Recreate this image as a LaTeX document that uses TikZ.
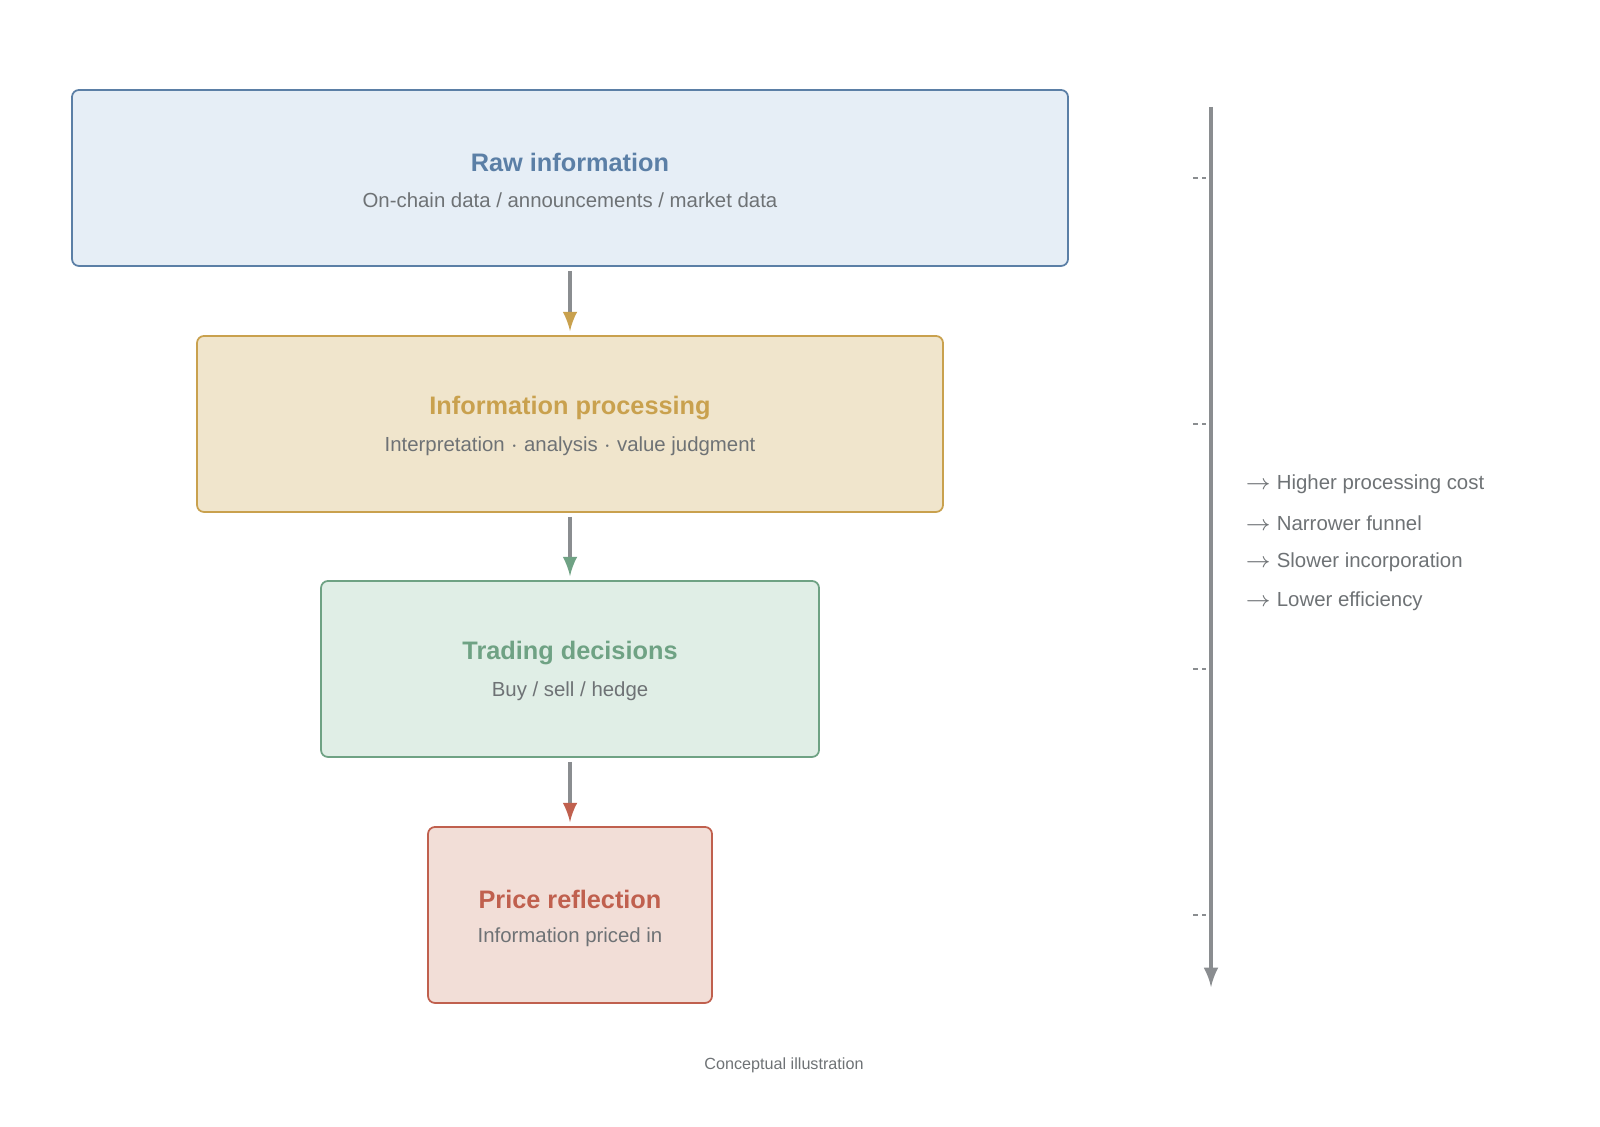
\documentclass[tikz,border=0pt]{standalone}
\usepackage{fontspec}
\setmainfont{Liberation Sans}
\usetikzlibrary{arrows}
\usetikzlibrary{positioning}
\definecolor{rawline}{HTML}{5B7FA6}\definecolor{rawfill}{HTML}{E6EEF6}
\definecolor{procline}{HTML}{C9A14E}\definecolor{procfill}{HTML}{F0E5CC}
\definecolor{tradeline}{HTML}{6FA284}\definecolor{tradefill}{HTML}{E0EEE6}
\definecolor{priceline}{HTML}{C0604E}\definecolor{pricefill}{HTML}{F2DED7}
\definecolor{subtext}{HTML}{6E7275}
\definecolor{axis}{HTML}{8A8D90}
\tikzset{
  stage/.style={draw=#1line, fill=#1fill, rounded corners=0.07cm, line width=0.5pt,
    minimum height=1.76cm, align=center, inner sep=0pt},
  title/.style={font=\fontsize{7.2}{8}\selectfont\bfseries, text=#1line},
  sub/.style={font=\fontsize{5.8}{7}\selectfont, text=subtext},
  flow/.style={->, line width=0.9pt, draw=axis},
  note/.style={font=\fontsize{5.8}{7}\selectfont, text=subtext, anchor=west}
}
\begin{document}
\begin{tikzpicture}[>=latex]
  \path[use as bounding box] (0, 0) rectangle (16, 11.27);

%%%%%%%%%%%% Stages
  \node[stage=raw, minimum width=9.96cm] at (5.70, 9.49) (raw) {};
  \node[title=raw] at (5.70, 9.65) (rawt) {Raw information};
  \node[sub] at (5.70, 9.27) {On-chain data / announcements / market data};

  \node[stage=proc, minimum width=7.46cm] at (5.70, 7.03) (proc) {};
  \node[title=proc] at (5.70, 7.19) {Information processing};
  \node[sub] at (5.70, 6.81) {Interpretation $\cdot$ analysis $\cdot$ value judgment};

  \node[stage=trade, minimum width=4.98cm] at (5.70, 4.58) (trade) {};
  \node[title=trade] at (5.70, 4.74) {Trading decisions};
  \node[sub] at (5.70, 4.36) {Buy / sell / hedge};

  \node[stage=price, minimum width=2.84cm] at (5.70, 2.12) (price) {};
  \node[title=price] at (5.70, 2.28) {Price reflection};
  \node[sub] at (5.70, 1.90) {Information priced in};

  \draw[flow, arrows={-latex[procline]}] ([yshift=-0.04cm]raw.south) -- ([yshift=0.04cm]proc.north);
  \draw[flow, arrows={-latex[tradeline]}] ([yshift=-0.04cm]proc.south) -- ([yshift=0.04cm]trade.north);
  \draw[flow, arrows={-latex[priceline]}] ([yshift=-0.04cm]trade.south) -- ([yshift=0.04cm]price.north);

%%%%%%%%%%%% Axis
  \coordinate (top) at (12.11, 10.20);
  \coordinate (bot) at (12.11, 1.40);
  \draw[flow] (top) -- (bot);
  \foreach \y in {9.49, 7.03, 4.58, 2.12} {
    \draw[axis, line width=0.6pt, dash pattern=on 0.05cm off 0.04cm] (11.93, \y) -- (12.06, \y);
  }
  \node[note] at (12.33, 6.43) {$\rightarrow$ Higher processing cost};
  \node[note] at (12.33, 6.04) {$\rightarrow$ Narrower funnel};
  \node[note] at (12.33, 5.65) {$\rightarrow$ Slower incorporation};
  \node[note] at (12.33, 5.26) {$\rightarrow$ Lower efficiency};

  \node[font=\fontsize{4.6}{6}\selectfont, text=subtext] at (7.84, 0.62) (caption) {Conceptual illustration};
\end{tikzpicture}
\end{document}
